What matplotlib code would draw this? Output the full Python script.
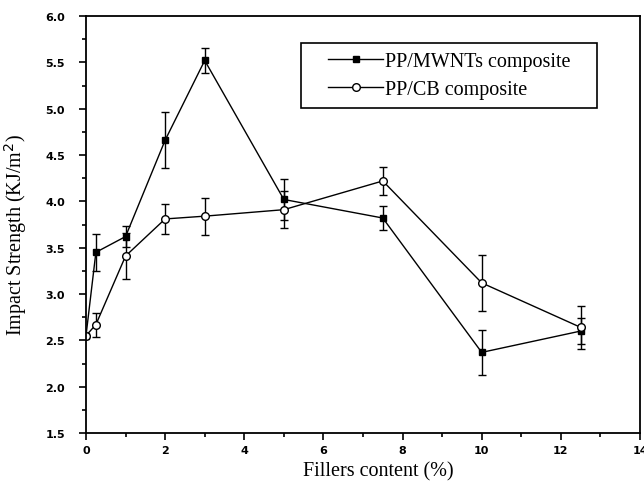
import numpy as np
import matplotlib
matplotlib.use("Agg")
import matplotlib.pyplot as plt
from matplotlib.ticker import MultipleLocator
from matplotlib.patches import Rectangle

# filler content (%)
x_mwnt = [0, 0.25, 1, 2, 3, 5, 7.5, 10, 12.5]
y_mwnt = [2.55, 3.45, 3.62, 4.66, 5.52, 4.02, 3.82, 2.37, 2.60]
e_mwnt = [0.0, 0.20, 0.11, 0.30, 0.13, 0.22, 0.13, 0.24, 0.14]

x_cb = [0, 0.25, 1, 2, 3, 5, 7.5, 10, 12.5]
y_cb = [2.55, 2.67, 3.41, 3.81, 3.84, 3.91, 4.22, 3.12, 2.64]
e_cb = [0.0, 0.13, 0.25, 0.16, 0.20, 0.20, 0.15, 0.30, 0.23]

labels = ["PP/MWNTs composite", "PP/CB composite"]

fig = plt.figure(figsize=(6.44, 4.85), dpi=100)
ax = fig.add_axes([86/644, 1 - 434/485, (640-86)/644, (434-17)/485])

c1 = ax.errorbar(x_mwnt, y_mwnt, yerr=e_mwnt, color='black', lw=1.0, marker='s',
                 ms=5, mfc='black', mec='black', capsize=3, elinewidth=1.0,
                 capthick=1.0)
c2 = ax.errorbar(x_cb, y_cb, yerr=e_cb, color='black', lw=1.0, marker='o',
                 ms=5.5, mfc='white', mec='black', capsize=3, elinewidth=1.0,
                 capthick=1.0)

ax.set_xlim(0, 14)
ax.set_ylim(1.5, 6.0)
ax.xaxis.set_major_locator(MultipleLocator(2))
ax.xaxis.set_minor_locator(MultipleLocator(1))
ax.yaxis.set_major_locator(MultipleLocator(0.5))
ax.yaxis.set_minor_locator(MultipleLocator(0.25))
ax.yaxis.set_major_formatter(plt.FormatStrFormatter('%.1f'))
ax.tick_params(which='both', direction='out', top=False, right=False,
               width=1.2, labelsize=8)
ax.tick_params(which='major', length=5)
ax.tick_params(which='minor', length=3)
ax.tick_params(axis='y', which='major', pad=10)
for lab in ax.get_xticklabels() + ax.get_yticklabels():
    lab.set_fontweight('bold')
for s in ax.spines.values():
    s.set_linewidth(1.3)

ax.set_xlabel("Fillers content (%)", family='Liberation Serif', fontsize=14.5)
ax.set_ylabel("Impact Strength (KJ/m$^2$)", family='Liberation Serif', fontsize=14.5)
ax.xaxis.set_label_coords(0.527, -0.068)
ax.yaxis.set_label_coords(-0.103, 0.476)

leg = ax.legend([c1[0], c2[0]], labels, loc='center left',
                bbox_to_anchor=(0.403, 0.858),
                prop={'family': 'Liberation Serif', 'size': 14.5},
                frameon=False, handlelength=2.7, borderpad=0.45,
                labelspacing=0.45, handletextpad=0.1)

# hand-drawn frame, wider at the sides than the legend's own padding
fig.canvas.draw()
bb = leg.get_window_extent().transformed(fig.transFigure.inverted())
padx = 18 / 644
frame = Rectangle((bb.x0 - padx, bb.y0), bb.width + 2 * padx, bb.height,
                  transform=fig.transFigure, fill=False, lw=1.2,
                  edgecolor='black', zorder=5)
fig.patches.append(frame)

fig.savefig("out.png", dpi=100)
